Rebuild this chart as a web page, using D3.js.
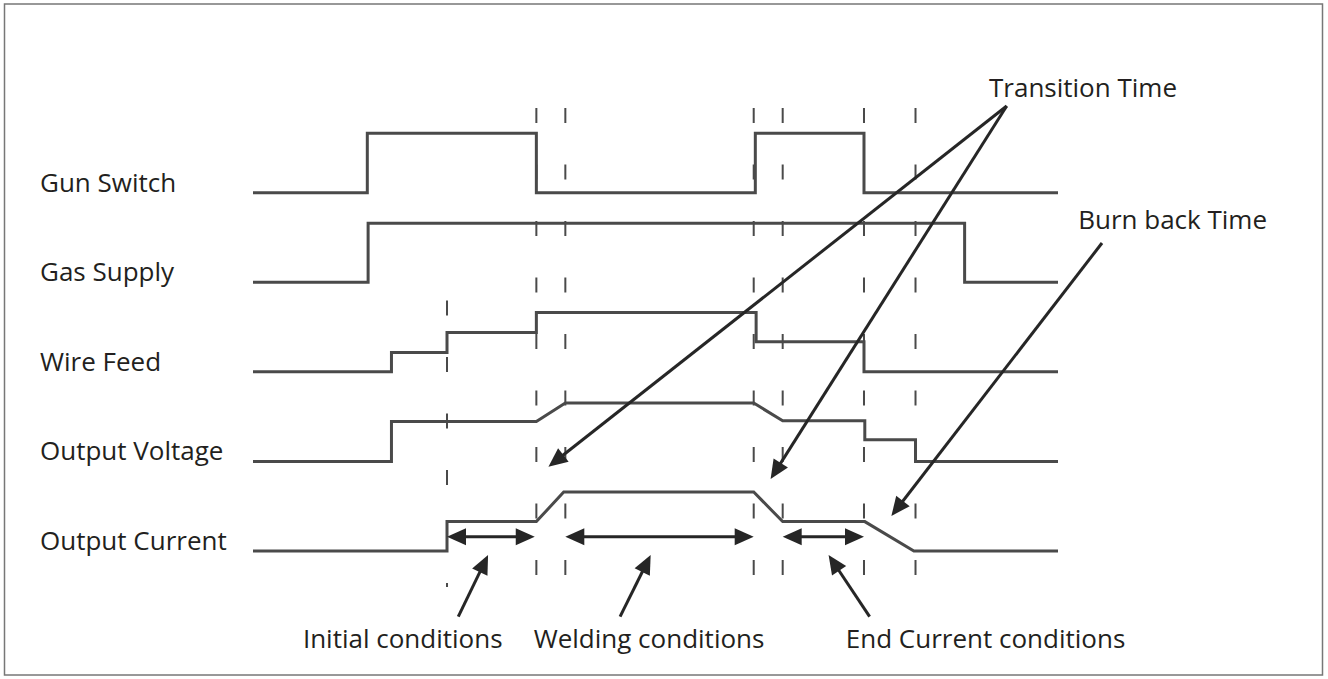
<!DOCTYPE html>
<html lang="en">
<head>
  <meta charset="UTF-8">
  <title>Welding timing diagram</title>
  <style>
    body { margin: 0; background: #fff; }
    svg { display: block; font-family: "Open Sans", "Noto Sans", sans-serif; }
    .frame { fill: none; stroke: #777; stroke-width: 1.5px; }
    .signal { fill: none; stroke: #4a4a4a; stroke-width: 3px; stroke-linejoin: miter; }
    .marker { stroke: #4a4a4a; stroke-width: 2px; stroke-dasharray: 15 41.5; }
    .arrow { stroke: #262626; stroke-width: 3px; fill: none; }
    .head { fill: #262626; }
    .label { fill: #231f20; font-size: 26px; }
  </style>
</head>
<body>
  <script src="https://cdn.jsdelivr.net/npm/d3@7"></script>
  <script>
    // time in arbitrary units, level in steps (0 = off)
    const signals = ["Gun Switch", "Gas Supply", "Wire Feed", "Output Voltage", "Output Current"];

    const gunSwitch = [[0, 0], [14.2, 0], [14.2, 2.97], [35.2, 2.97], [35.2, 0], [62.4, 0], [62.4, 2.97], [75.9, 2.97], [75.9, 0], [100, 0]];
    const gasSupply = [[0, 0], [14.3, 0], [14.3, 2.95], [88.4, 2.95], [88.4, 0], [100, 0]];
    const wireFeed = [[0, 0], [17.2, 0], [17.2, 0.97], [24.1, 0.97], [24.1, 1.97], [35.2, 1.97], [35.2, 2.97], [62.5, 2.97], [62.5, 1.5], [75.9, 1.5], [75.9, 0], [100, 0]];
    const outputVoltage = [[0, 0], [17.2, 0], [17.2, 2], [35.2, 2], [38.8, 2.92], [62.2, 2.92], [65.8, 2.03], [76, 2.03], [76, 1.09], [82.3, 1.09], [82.3, 0], [100, 0]];
    const outputCurrent = [[0, 0], [24.1, 0], [24.1, 1.47], [35.2, 1.47], [38.6, 2.95], [62.2, 2.95], [65.8, 1.47], [76, 1.47], [82.1, 0], [100, 0]];
    const series = [gunSwitch, gasSupply, wireFeed, outputVoltage, outputCurrent];

    const markerTimes = [35.2, 38.8, 62.2, 65.8, 75.9, 82.3];
    const wireMarkerTime = 24.1;

    const phaseSpans = [[24.1, 35.0], [38.8, 62.2], [65.8, 75.9]];
    const phaseLabels = ["Initial conditions", "Welding conditions", "End Current conditions"];
    const phasePointers = [[25.5, 29.2], [45.6, 49.4], [76.6, 71.5]]; // [tail, tip] times
    const phaseLabelCenters = [18.6, 49.2, 91.0];

    const transitionTips = [[36.7, 466.7], [64.3, 479]];
    const burnBackTip = [79.3, 516];

    const W = 1328, H = 679;
    const svg = d3.select("body").append("svg").attr("width", W).attr("height", H);

    svg.append("rect").attr("class", "frame")
      .attr("x", 4.5).attr("y", 4).attr("width", 1318).attr("height", 671);

    const x = d3.scaleLinear().domain([0, 100]).range([253, 1058]);
    const lane = d3.scalePoint().domain(signals).range([192.7, 551]);
    const level = d3.scaleLinear().domain([0, 3]).range([0, -60]);

    // dashed time markers
    svg.append("g").selectAll("line").data(markerTimes).join("line")
      .attr("class", "marker")
      .attr("x1", d => x(d)).attr("x2", d => x(d))
      .attr("y1", 108).attr("y2", 575);
    svg.append("line").attr("class", "marker")
      .attr("x1", x(wireMarkerTime)).attr("x2", x(wireMarkerTime))
      .attr("y1", 300.5).attr("y2", 587);

    // signal traces
    const line = d3.line();
    svg.append("g").selectAll("path").data(series).join("path")
      .attr("class", "signal")
      .attr("d", (s, i) => line(s.map(p => [x(p[0]), lane(signals[i]) + level(p[1])])));

    svg.append("g").selectAll("text").data(signals).join("text")
      .attr("class", "label")
      .attr("x", 40).attr("y", d => lane(d) - 1)
      .text(d => d);

    function head(g, tip, from, len = 19, half = 8.5) {
      const dx = tip[0] - from[0], dy = tip[1] - from[1];
      const L = Math.hypot(dx, dy), ux = dx / L, uy = dy / L;
      const bx = tip[0] - ux * len, by = tip[1] - uy * len;
      g.append("path").attr("class", "head")
        .attr("d", `M${tip[0]},${tip[1]}L${bx - uy * half},${by + ux * half}L${bx + uy * half},${by - ux * half}Z`);
    }
    function arrow(g, from, tip) {
      const dx = tip[0] - from[0], dy = tip[1] - from[1];
      const L = Math.hypot(dx, dy);
      const end = [tip[0] - dx / L * 12, tip[1] - dy / L * 12];
      g.append("line").attr("class", "arrow")
        .attr("x1", from[0]).attr("y1", from[1]).attr("x2", end[0]).attr("y2", end[1]);
      head(g, tip, from);
    }

    const ann = svg.append("g");

    // double-headed phase arrows
    const spanY = lane("Output Current") - 14.3;
    phaseSpans.forEach(([a, b]) => {
      const p0 = [x(a), spanY], p1 = [x(b), spanY];
      ann.append("line").attr("class", "arrow")
        .attr("x1", p0[0] + 10).attr("y1", spanY).attr("x2", p1[0] - 10).attr("y2", spanY);
      head(ann, p0, p1);
      head(ann, p1, p0);
    });

    phasePointers.forEach(([t0, t1]) => arrow(ann, [x(t0), 616.7], [x(t1), 555]));

    ann.selectAll("text.phase").data(phaseLabels).join("text")
      .attr("class", "label phase")
      .attr("text-anchor", "middle")
      .attr("x", (d, i) => x(phaseLabelCenters[i])).attr("y", 648)
      .text(d => d);

    const apex = [1006.7, 106];
    transitionTips.forEach(([t, y]) => arrow(ann, apex, [x(t), y]));
    ann.append("text").attr("class", "label")
      .attr("x", 989).attr("y", 96.7).text("Transition Time");

    arrow(ann, [1102, 243], [x(burnBackTip[0]), burnBackTip[1]]);
    ann.append("text").attr("class", "label")
      .attr("text-anchor", "end")
      .attr("x", 1267).attr("y", 229.3).text("Burn back Time");
  </script>
</body>
</html>
